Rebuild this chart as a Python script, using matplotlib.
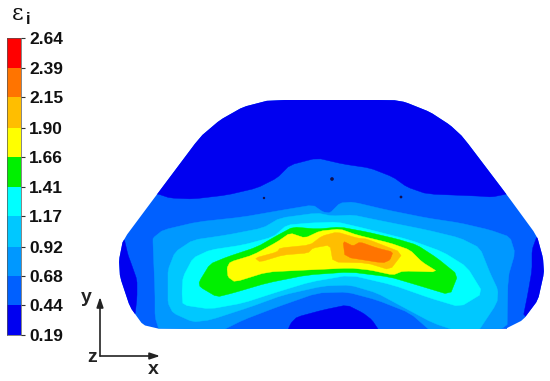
import matplotlib
matplotlib.use("Agg")
import matplotlib.pyplot as plt
from matplotlib.patches import Polygon
from matplotlib.colors import ListedColormap, BoundaryNorm
import numpy as np

plt.rcParams['font.family'] = ['Liberation Sans', 'DejaVu Sans']

levels = [0.19, 0.44, 0.68, 0.92, 1.17, 1.41, 1.66, 1.90, 2.15, 2.39, 2.64]
band_colors = ['#0000f0', '#0060ff', '#0098ff', '#00c8ff', '#00ffff',
               '#00f000', '#ffff00', '#ffbe00', '#ff7400', '#ff0000']
tick_labels = ['0.19', '0.44', '0.68', '0.92', '1.17', '1.41', '1.66', '1.90', '2.15', '2.39', '2.64']

# Contour bands (image pixels)
outline = [(270,100),(393,100),(405,102),(430,112),(450,125),(463,137),(507,195),(537,236),(543,258),
           (544,273),(538,300),(523,320),(507,328),(507,329),(160,329),(143,325),(130,307),(120,277),(119,260),
           (123,240),(158,193),(200,137),(220,120),(243,107)]
band_044_top = [(150,194),(158,194),(170,198),(193,199),(227,195),(257,188),(277,178),(290,165),(317,158),
                (343,164),(370,168),(393,177),(407,187),(427,194),(477,196),(492,197),(507,194),(520,190),
                (480,90),(200,90)]
band_044_left = [(115,238),(124,238),(128,255),(131,263),(137,280),(137,297),(135,316),(115,316)]
band_044_right = [(550,236),(537,236),(532,250),(532,270),(528,293),(523,318),(550,318)]
band_044_bottom = [(287,332),(291,323),(297,317),(323,310),(347,305),(363,313),(372,320),(380,332)]
band_068 = [(153,238),(163,230),(197,222),(243,217),(283,210),(313,205),(323,212),(330,213),(340,203),(353,202),
            (387,210),(427,218),(460,223),(490,230),(510,237),(515,253),(508,277),(507,333),(433,333),
            (410,313),(377,300),(347,292),(317,293),(277,307),(243,320),(217,333),(160,333),(155,317),(155,293),(153,243)]
band_092 = [(168,287),(168,270),(175,252),(193,240),(227,235),(263,228),(280,218),(317,213),(332,216),(353,215),(377,220),
            (427,230),(460,238),(480,248),(490,273),(498,290),(497,303),(477,333),(463,333),(433,323),(403,307),
            (377,293),(350,285),(323,286),(283,295),(250,307),(210,320),(193,322),(173,313),(168,303)]
band_117 = [(182,293),(183,277),(193,258),(210,250),(243,245),(273,237),(287,225),(310,223),(337,222),(363,228),
            (410,240),(443,252),(467,267),(483,293),(460,307),(430,298),(393,285),(350,275),(310,282),(277,292),
            (243,303),(210,309),(183,305)]
band_141 = [(199,282),(210,264),(227,257),(257,247),(278,235),(293,227),(317,229),(340,227),(367,232),(397,239),
            (417,245),(437,258),(458,275),(450,295),(417,285),(390,277),(350,272),(307,275),(267,283),(233,293),
            (217,297),(200,287)]
band_166 = [(227,268),(230,262),(253,255),(277,242),(290,233),(305,238),(320,231),(340,229),(357,235),(390,243),
            (410,250),(422,262),(438,272),(403,271),(393,275),(370,270),(350,268),(307,270),(267,272),(235,282),(228,277)]
band_190 = [(255,258),(277,252),(280,248),(310,245),(322,236),(337,232),(357,238),(367,239),(403,253),(390,270),
            (367,263),(333,262),(330,245),(313,248),(308,253),(283,255),(260,262)]
band_215 = [(343,241),(353,246),(360,242),(377,248),(393,252),(390,260),(383,263),(345,257)]
specks = [(332,179),(264,198),(401,197)]


def soften(pts, cut=0.15, passes=1):
    p = np.asarray(pts, float)
    for _ in range(passes):
        q = np.roll(p, -1, axis=0)
        p = np.column_stack(((1 - cut) * p + cut * q, cut * p + (1 - cut) * q)).reshape(-1, 2)
    return p


W, H = 550, 381
fig = plt.figure(figsize=(W/100, H/100), dpi=100, facecolor='white')
ax = fig.add_axes([0, 0, 1, 1])
ax.set_xlim(0, W); ax.set_ylim(H, 0); ax.axis('off')

round_outline = soften(outline, 0.12, 1)
clip = Polygon(round_outline, closed=True, transform=ax.transData, fc='none', ec='none')
ax.add_patch(clip)
ax.add_patch(Polygon(round_outline, closed=True, fc=band_colors[1], ec='none', zorder=1))
bands = [(band_044_top, 0), (band_044_left, 0), (band_044_right, 0), (band_044_bottom, 0),
         (band_068, 2), (band_092, 3), (band_117, 4), (band_141, 5), (band_166, 6), (band_190, 7), (band_215, 8)]
for i, (pts, c) in enumerate(bands):
    p = Polygon(soften(pts), closed=True, fc=band_colors[c], ec=band_colors[c], lw=0.3, zorder=2 + i)
    ax.add_patch(p)
    p.set_clip_path(clip)
sx, sy = zip(*specks)
ax.scatter(sx, sy, s=[7, 3, 4], c='#101050', marker='o', linewidths=0, zorder=20)

# colour bar
cax = fig.add_axes([7/W, 1 - 335/H, 14/W, (335 - 38)/H])
cmap = ListedColormap(band_colors)
norm = BoundaryNorm(levels, cmap.N)
cax.pcolormesh([0, 1], levels, np.array(levels[:-1]).reshape(-1, 1) + 0.01, cmap=cmap, norm=norm)
cax.set_xticks([])
cax.yaxis.tick_right()
cax.set_ylim(levels[0], levels[-1])
cax.set_yticks(levels)
cax.set_yticklabels(tick_labels, fontsize=12.5, fontweight='bold', color='#111111')
cax.tick_params(axis='y', length=3, width=0.8, pad=3, color='#333333')
for s in cax.spines.values():
    s.set_linewidth(0.5); s.set_color('#555555')

# title and triad
ax.text(12, 20, 'ε', fontsize=16, family='DejaVu Serif', va='baseline', ha='left', color='#111111')
ax.text(26, 24, 'i', fontsize=12, fontweight='bold', va='baseline', ha='left', color='#111111')
ap = dict(arrowstyle='-|>,head_length=0.6,head_width=0.2', color='#222222', lw=1.2, shrinkA=0, shrinkB=0)
ax.annotate('', xy=(100, 297), xytext=(100, 356), arrowprops=ap)
ax.annotate('', xy=(160, 356), xytext=(100, 356), arrowprops=ap)
ax.text(86, 298, 'y', fontsize=14, fontweight='bold', ha='center', va='center', color='#222222')
ax.text(92, 357, 'z', fontsize=14, fontweight='bold', ha='center', va='center', color='#222222')
ax.text(153, 369, 'x', fontsize=14, fontweight='bold', ha='center', va='center', color='#222222')

fig.savefig('out.png', dpi=100)
